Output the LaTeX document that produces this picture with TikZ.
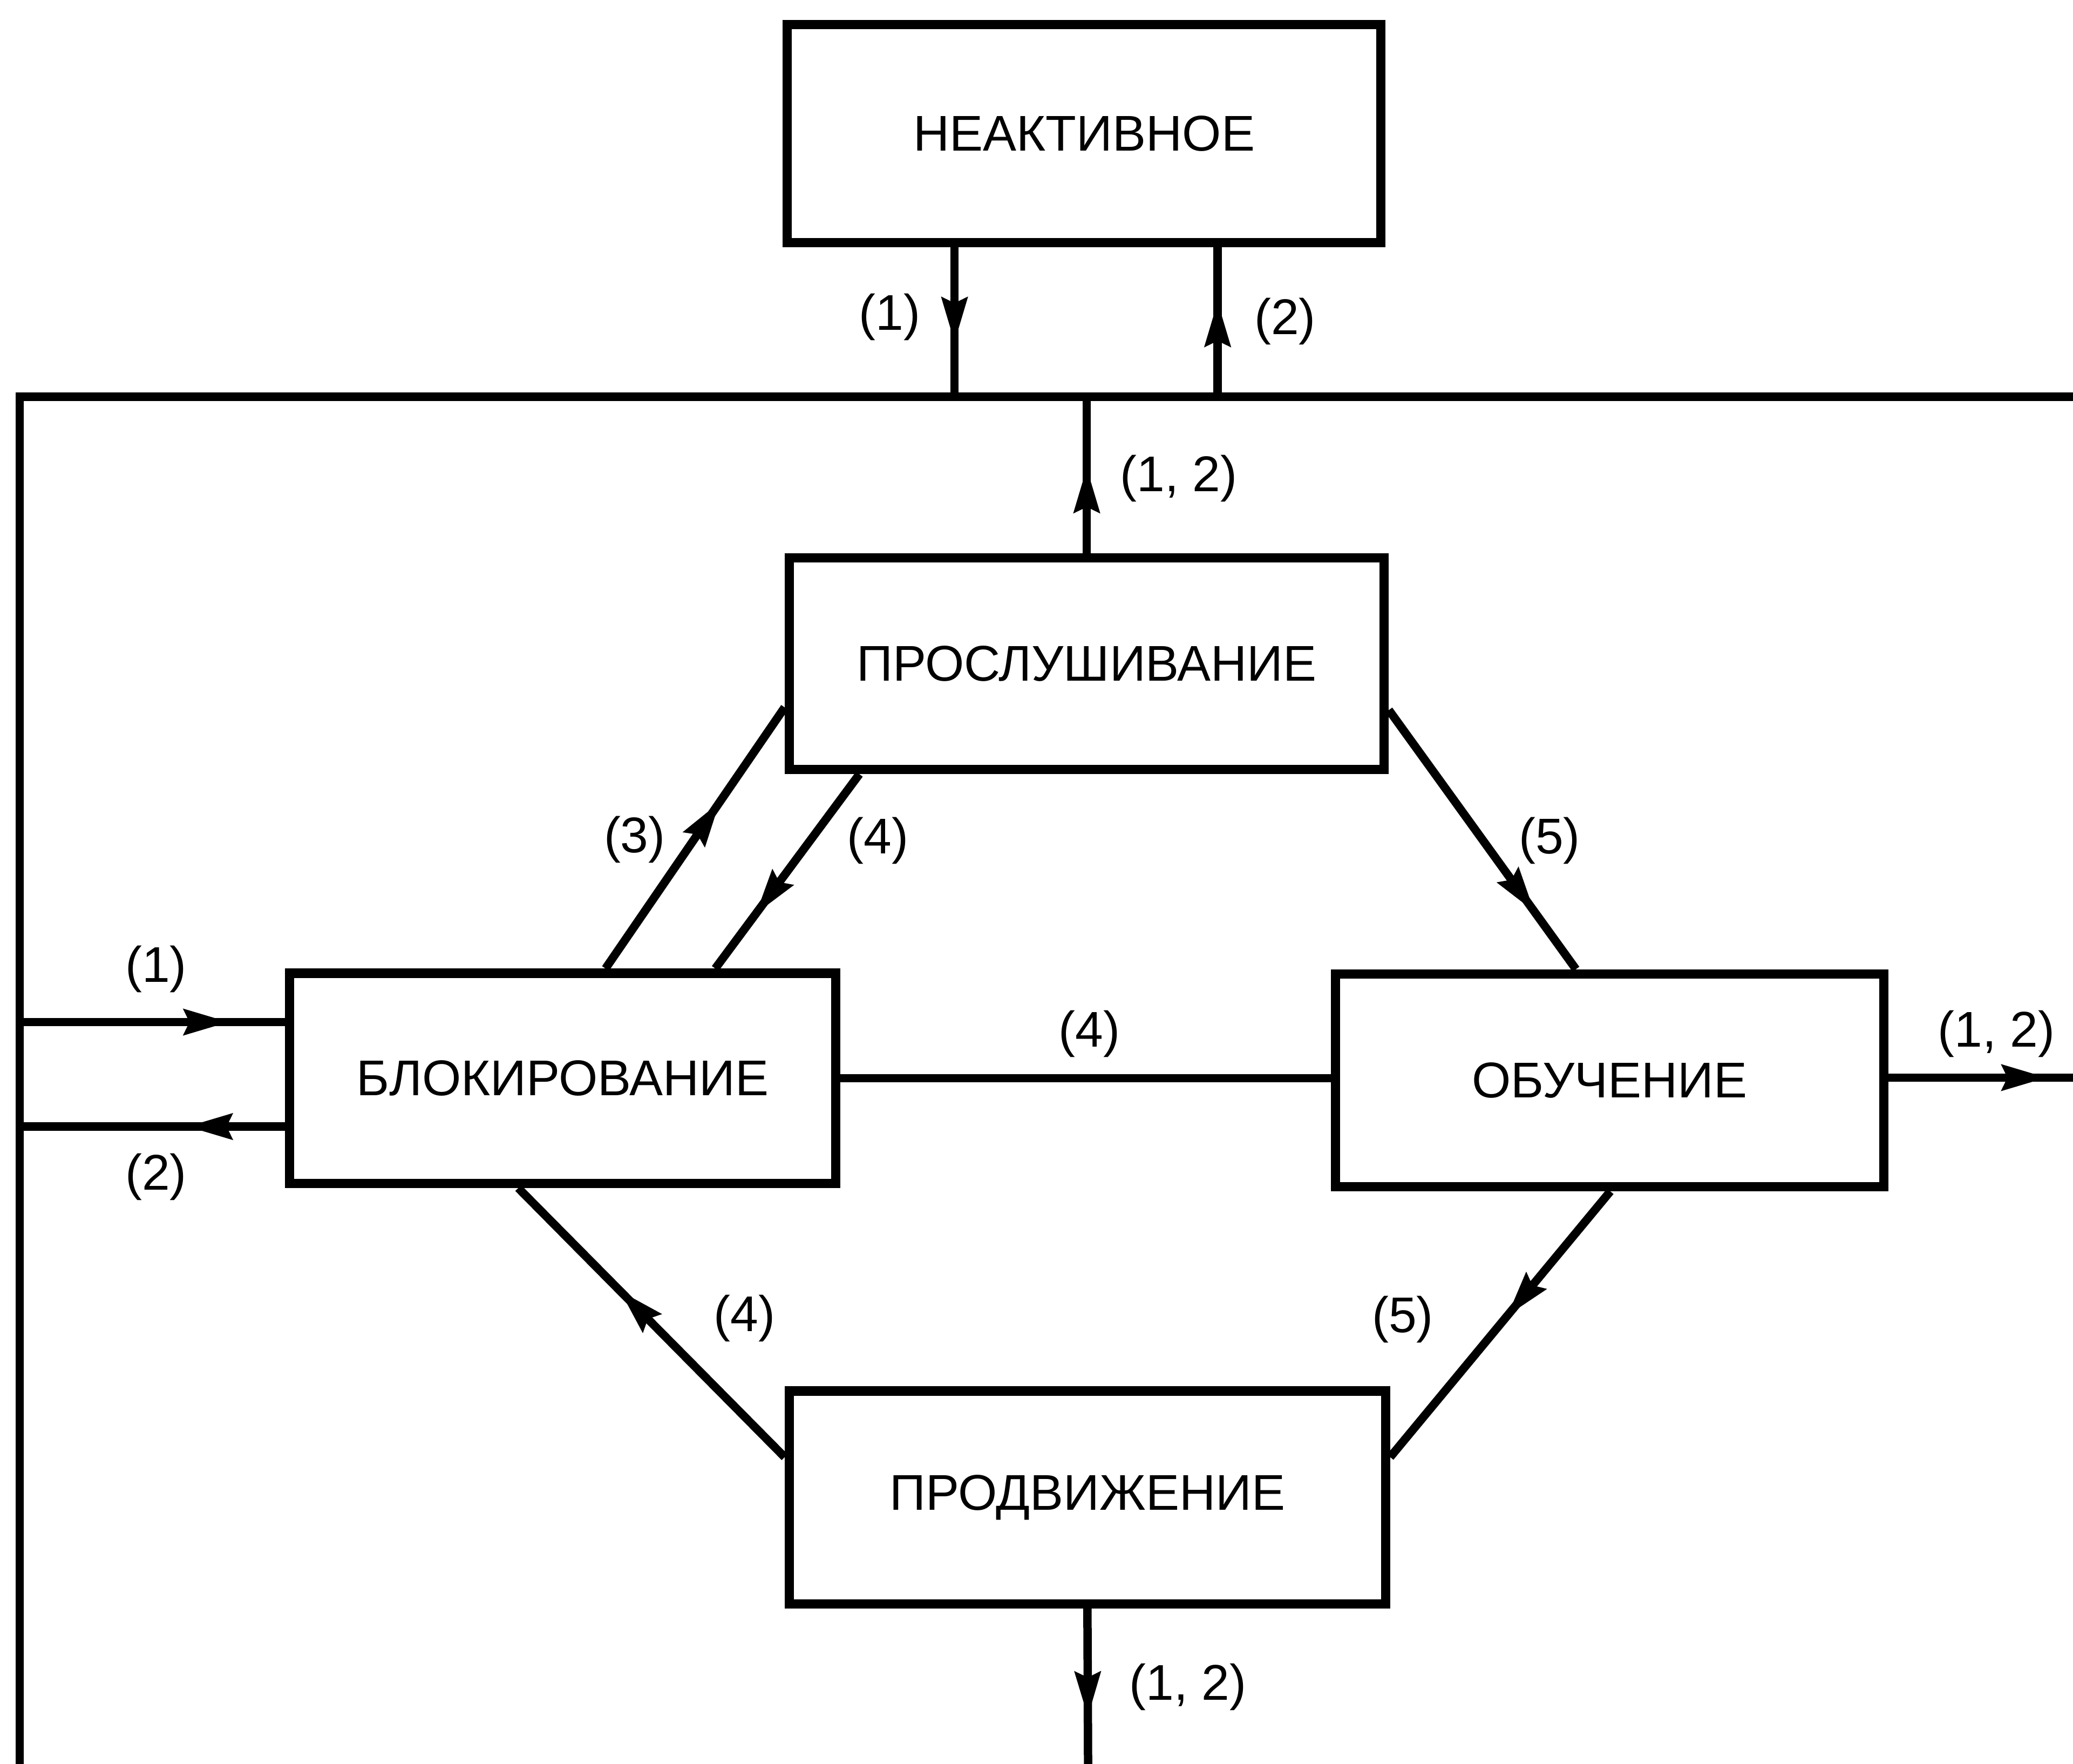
\documentclass[tikz,border=0pt]{standalone}
\usepackage{fontspec}
\setmainfont{Liberation Sans}
\usetikzlibrary{arrows.meta,decorations.markings}

\tikzset{pfeil/.style={postaction={decorate},
    decoration={markings, mark=at position #1 with {\arrow{Stealth[length=3.4mm,width=1.9mm,inset=0.4mm]}}}}}

\begin{document}
\begin{tikzpicture}
  \useasboundingbox (0, 0) rectangle (15.68, 13.34);  % Rand wie im Original.
  \tikzstyle{box}=[rectangle, draw, line width=2pt, fill=white, font=\fontsize{10.8}{13}\selectfont]
  \tikzstyle{lbl}=[inner sep=1pt, font=\fontsize{10.8}{13}\selectfont]
  \tikzstyle{linie}=[line width=1.8pt]

  \node[box, minimum width=4.49cm, minimum height=1.65cm] (neakt) at (8.2, 12.33)  {НЕАКТИВНОЕ};
  \node[box, minimum width=4.5cm,  minimum height=1.6cm]  (prosl) at (8.22, 8.32)  {ПРОСЛУШИВАНИЕ};
  \node[box, minimum width=4.13cm, minimum height=1.59cm] (blok)  at (4.255, 5.185) {БЛОКИРОВАНИЕ};
  \node[box, minimum width=4.15cm, minimum height=1.61cm] (obuch) at (12.175, 5.17) {ОБУЧЕНИЕ};
  \node[box, minimum width=4.51cm, minimum height=1.61cm] (prodv) at (8.225, 2.015) {ПРОДВИЖЕНИЕ};

  \coordinate (busB) at (0.15, 0);
  \coordinate (busL) at (0.15, 10.34);
  \coordinate (busR) at (15.68, 10.34);
  \coordinate (rechts) at (15.68, 5.19);
  \coordinate (unten) at (8.23, 0);

  % Sammelleitung
  \draw[linie] (busB) -- (busL) -- (busR);

  \draw[linie, pfeil=0.64] ([xshift=-9.8mm]neakt.south) -- ([xshift=-9.8mm]neakt.south |- busL);
  \draw[linie, pfeil=0.64] ([xshift=10.1mm]neakt.south |- busL) -- ([xshift=10.1mm]neakt.south);
  \draw[linie, pfeil=0.55] (prosl.north) -- (prosl.north |- busL);

  \draw[linie, pfeil=0.64] ([xshift=3.25mm]blok.north) -- ([yshift=-3.3mm]prosl.west);
  \draw[linie, pfeil=0.72] ([xshift=-17.2mm]prosl.south) -- ([xshift=11.55mm]blok.north);
  \draw[linie, pfeil=0.78] ([yshift=-3.5mm]prosl.east) -- ([xshift=-2.55mm]obuch.north);
  \draw[linie] (blok.east) -- (blok.east -| obuch.west);
  \draw[linie, pfeil=0.86] (obuch.east |- rechts) -- (rechts);

  \draw[linie, pfeil=0.79] ([yshift=4.25mm]blok.west -| busL) -- ([yshift=4.25mm]blok.west);
  \draw[linie, pfeil=0.37] ([yshift=-3.65mm]blok.west) -- ([yshift=-3.65mm]blok.west -| busL);

  \draw[linie, pfeil=0.47] ([xshift=0.05mm]obuch.south) -- ([yshift=3.05mm]prodv.east);
  \draw[linie, pfeil=0.62] ([yshift=3.05mm]prodv.west) -- ([xshift=-3.35mm]blok.south);
  \draw[linie, pfeil=0.70] (prodv.south) -- (unten);

  \node[lbl] (l1o)  at (6.73, 10.94) {(1)};
  \node[lbl] (l2o)  at (9.72, 10.91) {(2)};
  \node[lbl, anchor=west] (l12o) at (8.43, 9.72) {(1, 2)};
  \node[lbl] (l3)   at (4.8, 6.99)   {(3)};
  \node[lbl] (l4o)  at (6.64, 6.98)  {(4)};
  \node[lbl] (l5o)  at (11.72, 6.98) {(5)};
  \node[lbl] (l4m)  at (8.24, 5.52)  {(4)};
  \node[lbl] (l12r) at (15.1, 5.52)  {(1, 2)};
  \node[lbl] (l1l)  at (1.18, 6.01)  {(1)};
  \node[lbl] (l2l)  at (1.18, 4.44)  {(2)};
  \node[lbl] (l5u)  at (10.61, 3.36) {(5)};
  \node[lbl] (l4u)  at (5.63, 3.37)  {(4)};
  \node[lbl, anchor=west] (l12u) at (8.5, 0.58) {(1, 2)};
\end{tikzpicture}
\end{document}
